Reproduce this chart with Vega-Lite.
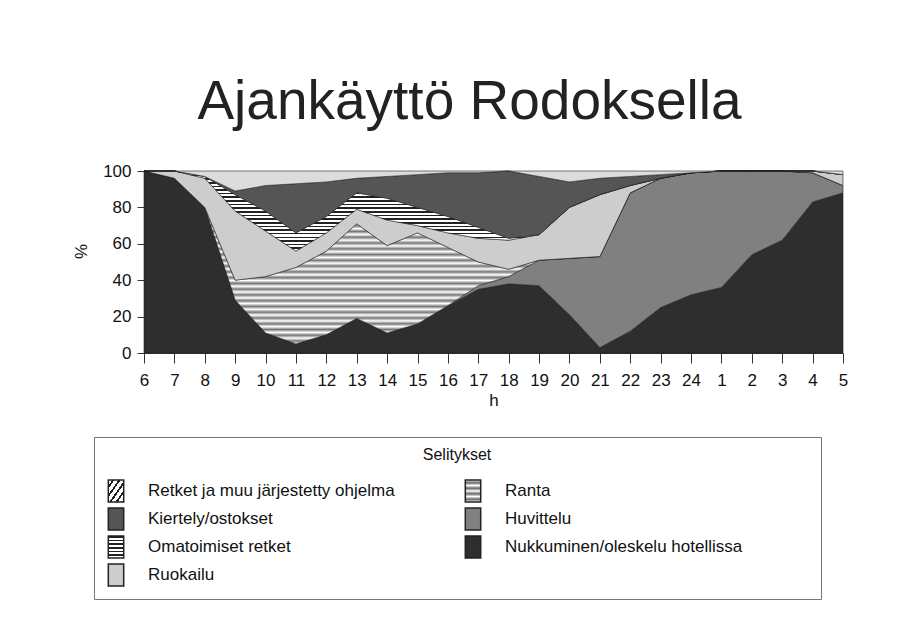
{
"$schema": "https://vega.github.io/schema/vega-lite/v6.json",
"width": 699, "height": 182,
"autosize": {"type": "none"},
"padding": {"left": 144, "top": 171, "right": 65, "bottom": 279},
"background": "white",
"title": {"text": "Ajankäyttö Rodoksella", "fontSize": 55, "font": "Liberation Sans", "fontWeight": "normal", "color": "#222", "anchor": "middle", "frame": "group", "dx": -24, "dy": 52, "offset": 40, "baseline": "alphabetic"},
"datasets": {
"rank": [
{"s": "Nukkuminen/oleskelu hotellissa", "r": 1},
{"s": "Huvittelu", "r": 2},
{"s": "Ranta", "r": 3},
{"s": "Ruokailu", "r": 4},
{"s": "Omatoimiset retket", "r": 5},
{"s": "Kiertely/ostokset", "r": 6},
{"s": "Retket ja muu järjestetty ohjelma", "r": 7}
],
"vals": [
{"h":"6","s":"Nukkuminen/oleskelu hotellissa","v":100},{"h":"6","s":"Huvittelu","v":0},{"h":"6","s":"Ranta","v":0},{"h":"6","s":"Ruokailu","v":0},{"h":"6","s":"Omatoimiset retket","v":0},{"h":"6","s":"Kiertely/ostokset","v":0},{"h":"6","s":"Retket ja muu järjestetty ohjelma","v":0},
{"h":"7","s":"Nukkuminen/oleskelu hotellissa","v":96},{"h":"7","s":"Huvittelu","v":0},{"h":"7","s":"Ranta","v":0},{"h":"7","s":"Ruokailu","v":4},{"h":"7","s":"Omatoimiset retket","v":0},{"h":"7","s":"Kiertely/ostokset","v":0},{"h":"7","s":"Retket ja muu järjestetty ohjelma","v":0},
{"h":"8","s":"Nukkuminen/oleskelu hotellissa","v":80},{"h":"8","s":"Huvittelu","v":0},{"h":"8","s":"Ranta","v":0},{"h":"8","s":"Ruokailu","v":16},{"h":"8","s":"Omatoimiset retket","v":1},{"h":"8","s":"Kiertely/ostokset","v":0},{"h":"8","s":"Retket ja muu järjestetty ohjelma","v":3},
{"h":"9","s":"Nukkuminen/oleskelu hotellissa","v":29},{"h":"9","s":"Huvittelu","v":0},{"h":"9","s":"Ranta","v":11},{"h":"9","s":"Ruokailu","v":38},{"h":"9","s":"Omatoimiset retket","v":9},{"h":"9","s":"Kiertely/ostokset","v":2},{"h":"9","s":"Retket ja muu järjestetty ohjelma","v":11},
{"h":"10","s":"Nukkuminen/oleskelu hotellissa","v":11},{"h":"10","s":"Huvittelu","v":0},{"h":"10","s":"Ranta","v":31},{"h":"10","s":"Ruokailu","v":25},{"h":"10","s":"Omatoimiset retket","v":11},{"h":"10","s":"Kiertely/ostokset","v":14},{"h":"10","s":"Retket ja muu järjestetty ohjelma","v":8},
{"h":"11","s":"Nukkuminen/oleskelu hotellissa","v":5},{"h":"11","s":"Huvittelu","v":0},{"h":"11","s":"Ranta","v":42},{"h":"11","s":"Ruokailu","v":9},{"h":"11","s":"Omatoimiset retket","v":10},{"h":"11","s":"Kiertely/ostokset","v":27},{"h":"11","s":"Retket ja muu järjestetty ohjelma","v":7},
{"h":"12","s":"Nukkuminen/oleskelu hotellissa","v":10},{"h":"12","s":"Huvittelu","v":0},{"h":"12","s":"Ranta","v":46},{"h":"12","s":"Ruokailu","v":10},{"h":"12","s":"Omatoimiset retket","v":9},{"h":"12","s":"Kiertely/ostokset","v":19},{"h":"12","s":"Retket ja muu järjestetty ohjelma","v":6},
{"h":"13","s":"Nukkuminen/oleskelu hotellissa","v":19},{"h":"13","s":"Huvittelu","v":0},{"h":"13","s":"Ranta","v":52},{"h":"13","s":"Ruokailu","v":8},{"h":"13","s":"Omatoimiset retket","v":9},{"h":"13","s":"Kiertely/ostokset","v":8},{"h":"13","s":"Retket ja muu järjestetty ohjelma","v":4},
{"h":"14","s":"Nukkuminen/oleskelu hotellissa","v":11},{"h":"14","s":"Huvittelu","v":0},{"h":"14","s":"Ranta","v":48},{"h":"14","s":"Ruokailu","v":14},{"h":"14","s":"Omatoimiset retket","v":12},{"h":"14","s":"Kiertely/ostokset","v":12},{"h":"14","s":"Retket ja muu järjestetty ohjelma","v":3},
{"h":"15","s":"Nukkuminen/oleskelu hotellissa","v":16},{"h":"15","s":"Huvittelu","v":0},{"h":"15","s":"Ranta","v":50},{"h":"15","s":"Ruokailu","v":4},{"h":"15","s":"Omatoimiset retket","v":10},{"h":"15","s":"Kiertely/ostokset","v":18},{"h":"15","s":"Retket ja muu järjestetty ohjelma","v":2},
{"h":"16","s":"Nukkuminen/oleskelu hotellissa","v":26},{"h":"16","s":"Huvittelu","v":0},{"h":"16","s":"Ranta","v":32},{"h":"16","s":"Ruokailu","v":8},{"h":"16","s":"Omatoimiset retket","v":9},{"h":"16","s":"Kiertely/ostokset","v":24},{"h":"16","s":"Retket ja muu järjestetty ohjelma","v":1},
{"h":"17","s":"Nukkuminen/oleskelu hotellissa","v":35},{"h":"17","s":"Huvittelu","v":2},{"h":"17","s":"Ranta","v":13},{"h":"17","s":"Ruokailu","v":13},{"h":"17","s":"Omatoimiset retket","v":6},{"h":"17","s":"Kiertely/ostokset","v":30},{"h":"17","s":"Retket ja muu järjestetty ohjelma","v":1},
{"h":"18","s":"Nukkuminen/oleskelu hotellissa","v":38},{"h":"18","s":"Huvittelu","v":4},{"h":"18","s":"Ranta","v":4},{"h":"18","s":"Ruokailu","v":16},{"h":"18","s":"Omatoimiset retket","v":1},{"h":"18","s":"Kiertely/ostokset","v":37},{"h":"18","s":"Retket ja muu järjestetty ohjelma","v":0},
{"h":"19","s":"Nukkuminen/oleskelu hotellissa","v":37},{"h":"19","s":"Huvittelu","v":14},{"h":"19","s":"Ranta","v":0},{"h":"19","s":"Ruokailu","v":14},{"h":"19","s":"Omatoimiset retket","v":0},{"h":"19","s":"Kiertely/ostokset","v":32},{"h":"19","s":"Retket ja muu järjestetty ohjelma","v":3},
{"h":"20","s":"Nukkuminen/oleskelu hotellissa","v":21},{"h":"20","s":"Huvittelu","v":31},{"h":"20","s":"Ranta","v":0},{"h":"20","s":"Ruokailu","v":28},{"h":"20","s":"Omatoimiset retket","v":0},{"h":"20","s":"Kiertely/ostokset","v":14},{"h":"20","s":"Retket ja muu järjestetty ohjelma","v":6},
{"h":"21","s":"Nukkuminen/oleskelu hotellissa","v":3},{"h":"21","s":"Huvittelu","v":50},{"h":"21","s":"Ranta","v":0},{"h":"21","s":"Ruokailu","v":34},{"h":"21","s":"Omatoimiset retket","v":0},{"h":"21","s":"Kiertely/ostokset","v":9},{"h":"21","s":"Retket ja muu järjestetty ohjelma","v":4},
{"h":"22","s":"Nukkuminen/oleskelu hotellissa","v":12},{"h":"22","s":"Huvittelu","v":76},{"h":"22","s":"Ranta","v":0},{"h":"22","s":"Ruokailu","v":4},{"h":"22","s":"Omatoimiset retket","v":0},{"h":"22","s":"Kiertely/ostokset","v":5},{"h":"22","s":"Retket ja muu järjestetty ohjelma","v":3},
{"h":"23","s":"Nukkuminen/oleskelu hotellissa","v":25},{"h":"23","s":"Huvittelu","v":71},{"h":"23","s":"Ranta","v":0},{"h":"23","s":"Ruokailu","v":0},{"h":"23","s":"Omatoimiset retket","v":0},{"h":"23","s":"Kiertely/ostokset","v":2},{"h":"23","s":"Retket ja muu järjestetty ohjelma","v":2},
{"h":"24","s":"Nukkuminen/oleskelu hotellissa","v":32},{"h":"24","s":"Huvittelu","v":67},{"h":"24","s":"Ranta","v":0},{"h":"24","s":"Ruokailu","v":0},{"h":"24","s":"Omatoimiset retket","v":0},{"h":"24","s":"Kiertely/ostokset","v":0},{"h":"24","s":"Retket ja muu järjestetty ohjelma","v":1},
{"h":"1","s":"Nukkuminen/oleskelu hotellissa","v":36},{"h":"1","s":"Huvittelu","v":64},{"h":"1","s":"Ranta","v":0},{"h":"1","s":"Ruokailu","v":0},{"h":"1","s":"Omatoimiset retket","v":0},{"h":"1","s":"Kiertely/ostokset","v":0},{"h":"1","s":"Retket ja muu järjestetty ohjelma","v":0},
{"h":"2","s":"Nukkuminen/oleskelu hotellissa","v":54},{"h":"2","s":"Huvittelu","v":46},{"h":"2","s":"Ranta","v":0},{"h":"2","s":"Ruokailu","v":0},{"h":"2","s":"Omatoimiset retket","v":0},{"h":"2","s":"Kiertely/ostokset","v":0},{"h":"2","s":"Retket ja muu järjestetty ohjelma","v":0},
{"h":"3","s":"Nukkuminen/oleskelu hotellissa","v":62},{"h":"3","s":"Huvittelu","v":38},{"h":"3","s":"Ranta","v":0},{"h":"3","s":"Ruokailu","v":0},{"h":"3","s":"Omatoimiset retket","v":0},{"h":"3","s":"Kiertely/ostokset","v":0},{"h":"3","s":"Retket ja muu järjestetty ohjelma","v":0},
{"h":"4","s":"Nukkuminen/oleskelu hotellissa","v":83},{"h":"4","s":"Huvittelu","v":16},{"h":"4","s":"Ranta","v":0},{"h":"4","s":"Ruokailu","v":1},{"h":"4","s":"Omatoimiset retket","v":0},{"h":"4","s":"Kiertely/ostokset","v":0},{"h":"4","s":"Retket ja muu järjestetty ohjelma","v":0},
{"h":"5","s":"Nukkuminen/oleskelu hotellissa","v":88},{"h":"5","s":"Huvittelu","v":4},{"h":"5","s":"Ranta","v":0},{"h":"5","s":"Ruokailu","v":6},{"h":"5","s":"Omatoimiset retket","v":0},{"h":"5","s":"Kiertely/ostokset","v":0},{"h":"5","s":"Retket ja muu järjestetty ohjelma","v":2}
]
},
"data": {"name": "vals"},
"transform": [{"lookup": "s", "from": {"data": {"name": "rank"}, "key": "s", "fields": ["r"]}}],
"mark": {"type": "area", "stroke": "#222", "strokeWidth": 0.6, "interpolate": "linear"},
"encoding": {
"x": {"field": "h", "type": "ordinal", "sort": ["6","7","8","9","10","11","12","13","14","15","16","17","18","19","20","21","22","23","24","1","2","3","4","5"], "scale": {"padding": 0},
 "axis": {"title": "h", "labelAngle": 0, "labelFontSize": 17, "titleFontSize": 17, "titleFontWeight": "normal", "tickSize": 10, "labelPadding": 9, "titlePadding": 4, "domainColor": "#333", "tickColor": "#333", "labelColor": "#111", "titleColor": "#111", "labelFont": "Liberation Sans", "titleFont": "Liberation Sans", "grid": false}},
"y": {"field": "v", "type": "quantitative", "stack": "zero", "scale": {"domain": [0, 100]},
 "axis": {"title": "%", "values": [0, 20, 40, 60, 80, 100], "labelFontSize": 17, "titleFontSize": 17, "titleFontWeight": "normal", "tickSize": 7, "labelPadding": 6, "titlePadding": 12, "titleY": 80, "domainColor": "#333", "tickColor": "#333", "labelColor": "#111", "titleColor": "#111", "labelFont": "Liberation Sans", "titleFont": "Liberation Sans", "grid": false}},
"order": {"field": "r", "type": "quantitative"},
"fill": {
 "condition": [
 {"test": "datum.s === 'Omatoimiset retket'", "value": {"gradient": "linear", "x1": 0, "y1": 0, "x2": 0, "y2": 1, "stops": [
{"offset":0,"color":"#222"},{"offset":0.02,"color":"#222"},{"offset":0.02,"color":"#fff"},{"offset":0.0455,"color":"#fff"},
{"offset":0.0455,"color":"#222"},{"offset":0.0655,"color":"#222"},{"offset":0.0655,"color":"#fff"},{"offset":0.0909,"color":"#fff"},
{"offset":0.0909,"color":"#222"},{"offset":0.1109,"color":"#222"},{"offset":0.1109,"color":"#fff"},{"offset":0.1364,"color":"#fff"},
{"offset":0.1364,"color":"#222"},{"offset":0.1564,"color":"#222"},{"offset":0.1564,"color":"#fff"},{"offset":0.1818,"color":"#fff"},
{"offset":0.1818,"color":"#222"},{"offset":0.2018,"color":"#222"},{"offset":0.2018,"color":"#fff"},{"offset":0.2273,"color":"#fff"},
{"offset":0.2273,"color":"#222"},{"offset":0.2473,"color":"#222"},{"offset":0.2473,"color":"#fff"},{"offset":0.2727,"color":"#fff"},
{"offset":0.2727,"color":"#222"},{"offset":0.2927,"color":"#222"},{"offset":0.2927,"color":"#fff"},{"offset":0.3182,"color":"#fff"},
{"offset":0.3182,"color":"#222"},{"offset":0.3382,"color":"#222"},{"offset":0.3382,"color":"#fff"},{"offset":0.3636,"color":"#fff"},
{"offset":0.3636,"color":"#222"},{"offset":0.3836,"color":"#222"},{"offset":0.3836,"color":"#fff"},{"offset":0.4091,"color":"#fff"},
{"offset":0.4091,"color":"#222"},{"offset":0.4291,"color":"#222"},{"offset":0.4291,"color":"#fff"},{"offset":0.4545,"color":"#fff"},
{"offset":0.4545,"color":"#222"},{"offset":0.4745,"color":"#222"},{"offset":0.4745,"color":"#fff"},{"offset":0.5,"color":"#fff"},
{"offset":0.5,"color":"#222"},{"offset":0.52,"color":"#222"},{"offset":0.52,"color":"#fff"},{"offset":0.5455,"color":"#fff"},
{"offset":0.5455,"color":"#222"},{"offset":0.5655,"color":"#222"},{"offset":0.5655,"color":"#fff"},{"offset":0.5909,"color":"#fff"},
{"offset":0.5909,"color":"#222"},{"offset":0.6109,"color":"#222"},{"offset":0.6109,"color":"#fff"},{"offset":0.6364,"color":"#fff"},
{"offset":0.6364,"color":"#222"},{"offset":0.6564,"color":"#222"},{"offset":0.6564,"color":"#fff"},{"offset":0.6818,"color":"#fff"},
{"offset":0.6818,"color":"#222"},{"offset":0.7018,"color":"#222"},{"offset":0.7018,"color":"#fff"},{"offset":0.7273,"color":"#fff"},
{"offset":0.7273,"color":"#222"},{"offset":0.7473,"color":"#222"},{"offset":0.7473,"color":"#fff"},{"offset":0.7727,"color":"#fff"},
{"offset":0.7727,"color":"#222"},{"offset":0.7927,"color":"#222"},{"offset":0.7927,"color":"#fff"},{"offset":0.8182,"color":"#fff"},
{"offset":0.8182,"color":"#222"},{"offset":0.8382,"color":"#222"},{"offset":0.8382,"color":"#fff"},{"offset":0.8636,"color":"#fff"},
{"offset":0.8636,"color":"#222"},{"offset":0.8836,"color":"#222"},{"offset":0.8836,"color":"#fff"},{"offset":0.9091,"color":"#fff"},
{"offset":0.9091,"color":"#222"},{"offset":0.9291,"color":"#222"},{"offset":0.9291,"color":"#fff"},{"offset":0.9545,"color":"#fff"},
{"offset":0.9545,"color":"#222"},{"offset":0.9745,"color":"#222"},{"offset":0.9745,"color":"#fff"},{"offset":1,"color":"#fff"}
]}},
 {"test": "datum.s === 'Ranta'", "value": {"gradient": "linear", "x1": 0, "y1": 0, "x2": 0, "y2": 1, "stops": [
{"offset":0,"color":"#fff"},{"offset":0.0167,"color":"#777"},{"offset":0.0333,"color":"#fff"},{"offset":0.05,"color":"#777"},{"offset":0.0667,"color":"#fff"},{"offset":0.0833,"color":"#777"},
{"offset":0.1,"color":"#fff"},{"offset":0.1167,"color":"#777"},{"offset":0.1333,"color":"#fff"},{"offset":0.15,"color":"#777"},{"offset":0.1667,"color":"#fff"},{"offset":0.1833,"color":"#777"},
{"offset":0.2,"color":"#fff"},{"offset":0.2167,"color":"#777"},{"offset":0.2333,"color":"#fff"},{"offset":0.25,"color":"#777"},{"offset":0.2667,"color":"#fff"},{"offset":0.2833,"color":"#777"},
{"offset":0.3,"color":"#fff"},{"offset":0.3167,"color":"#777"},{"offset":0.3333,"color":"#fff"},{"offset":0.35,"color":"#777"},{"offset":0.3667,"color":"#fff"},{"offset":0.3833,"color":"#777"},
{"offset":0.4,"color":"#fff"},{"offset":0.4167,"color":"#777"},{"offset":0.4333,"color":"#fff"},{"offset":0.45,"color":"#777"},{"offset":0.4667,"color":"#fff"},{"offset":0.4833,"color":"#777"},
{"offset":0.5,"color":"#fff"},{"offset":0.5167,"color":"#777"},{"offset":0.5333,"color":"#fff"},{"offset":0.55,"color":"#777"},{"offset":0.5667,"color":"#fff"},{"offset":0.5833,"color":"#777"},
{"offset":0.6,"color":"#fff"},{"offset":0.6167,"color":"#777"},{"offset":0.6333,"color":"#fff"},{"offset":0.65,"color":"#777"},{"offset":0.6667,"color":"#fff"},{"offset":0.6833,"color":"#777"},
{"offset":0.7,"color":"#fff"},{"offset":0.7167,"color":"#777"},{"offset":0.7333,"color":"#fff"},{"offset":0.75,"color":"#777"},{"offset":0.7667,"color":"#fff"},{"offset":0.7833,"color":"#777"},
{"offset":0.8,"color":"#fff"},{"offset":0.8167,"color":"#777"},{"offset":0.8333,"color":"#fff"},{"offset":0.85,"color":"#777"},{"offset":0.8667,"color":"#fff"},{"offset":0.8833,"color":"#777"},
{"offset":0.9,"color":"#fff"},{"offset":0.9167,"color":"#777"},{"offset":0.9333,"color":"#fff"},{"offset":0.95,"color":"#777"},{"offset":0.9667,"color":"#fff"},{"offset":0.9833,"color":"#777"},
{"offset":1,"color":"#fff"}
]}},
 {"test": "datum.s === 'Retket ja muu järjestetty ohjelma'", "value": "#dcdcdc"}
 ],
 "field": "s", "type": "nominal",
 "scale": {"domain": ["Retket ja muu järjestetty ohjelma", "Kiertely/ostokset", "Omatoimiset retket", "Ruokailu", "Ranta", "Huvittelu", "Nukkuminen/oleskelu hotellissa"],
  "range": [
   {"expr": "{gradient: 'linear', x1: 0, y1: 0, x2: 1, y2: 1, stops: [{offset: 0, color: '#fff'}, {offset: 0.13, color: '#fff'}, {offset: 0.13, color: '#222'}, {offset: 0.2, color: '#222'}, {offset: 0.2, color: '#fff'}, {offset: 0.33, color: '#fff'}, {offset: 0.33, color: '#222'}, {offset: 0.4, color: '#222'}, {offset: 0.4, color: '#fff'}, {offset: 0.53, color: '#fff'}, {offset: 0.53, color: '#222'}, {offset: 0.6, color: '#222'}, {offset: 0.6, color: '#fff'}, {offset: 0.73, color: '#fff'}, {offset: 0.73, color: '#222'}, {offset: 0.8, color: '#222'}, {offset: 0.8, color: '#fff'}, {offset: 0.93, color: '#fff'}, {offset: 0.93, color: '#222'}, {offset: 1, color: '#222'}]}"},
   "#555555",
   {"expr": "{gradient: 'linear', x1: 0, y1: 0, x2: 0, y2: 1, stops: [{offset: 0, color: '#222'}, {offset: 0.07, color: '#222'}, {offset: 0.07, color: '#fff'}, {offset: 0.1667, color: '#fff'}, {offset: 0.1667, color: '#222'}, {offset: 0.2367, color: '#222'}, {offset: 0.2367, color: '#fff'}, {offset: 0.3333, color: '#fff'}, {offset: 0.3333, color: '#222'}, {offset: 0.4033, color: '#222'}, {offset: 0.4033, color: '#fff'}, {offset: 0.5, color: '#fff'}, {offset: 0.5, color: '#222'}, {offset: 0.57, color: '#222'}, {offset: 0.57, color: '#fff'}, {offset: 0.6667, color: '#fff'}, {offset: 0.6667, color: '#222'}, {offset: 0.7367, color: '#222'}, {offset: 0.7367, color: '#fff'}, {offset: 0.8333, color: '#fff'}, {offset: 0.8333, color: '#222'}, {offset: 0.9033, color: '#222'}, {offset: 0.9033, color: '#fff'}, {offset: 1, color: '#fff'}]}"},
   "#cdcdcd",
   {"expr": "{gradient: 'linear', x1: 0, y1: 0, x2: 0, y2: 1, stops: [{offset: 0, color: '#fff'}, {offset: 0.125, color: '#666'}, {offset: 0.25, color: '#fff'}, {offset: 0.375, color: '#666'}, {offset: 0.5, color: '#fff'}, {offset: 0.625, color: '#666'}, {offset: 0.75, color: '#fff'}, {offset: 0.875, color: '#666'}, {offset: 1, color: '#fff'}]}"},
   "#808080",
   "#2e2e2e"]},
 "legend": {"orient": "none", "legendX": -50, "legendY": 266, "title": "Selitykset", "titleAnchor": "middle", "titleFontSize": 16, "titleFontWeight": "normal", "titleColor": "#111", "titleFont": "Liberation Sans", "titlePadding": 16,
  "labelFont": "Liberation Sans", "labelFontSize": 17, "labelColor": "#111", "labelLimit": 500, "labelOffset": 20,
  "labelExpr": "datum.label === 'Nukkuminen/oleskelu hotellissa' ? datum.label + '\u00a0\u00a0\u00a0\u00a0\u00a0\u00a0\u00a0\u00a0\u00a0\u00a0\u00a0\u00a0\u2800' : datum.label",
  "columns": 2, "columnPadding": 66, "rowPadding": 0, "padding": 10,
  "symbolType": "M-0.7,-1H0.7V1H-0.7Z", "symbolSize": 484,
  "strokeColor": "#777", "fillColor": "white",
  "encode": {"symbols": {"stroke": {"value": "#222"}, "strokeWidth": {"value": 1}}}
 }
}
},
"config": {"view": {"stroke": null}, "font": "Liberation Sans"}
}
